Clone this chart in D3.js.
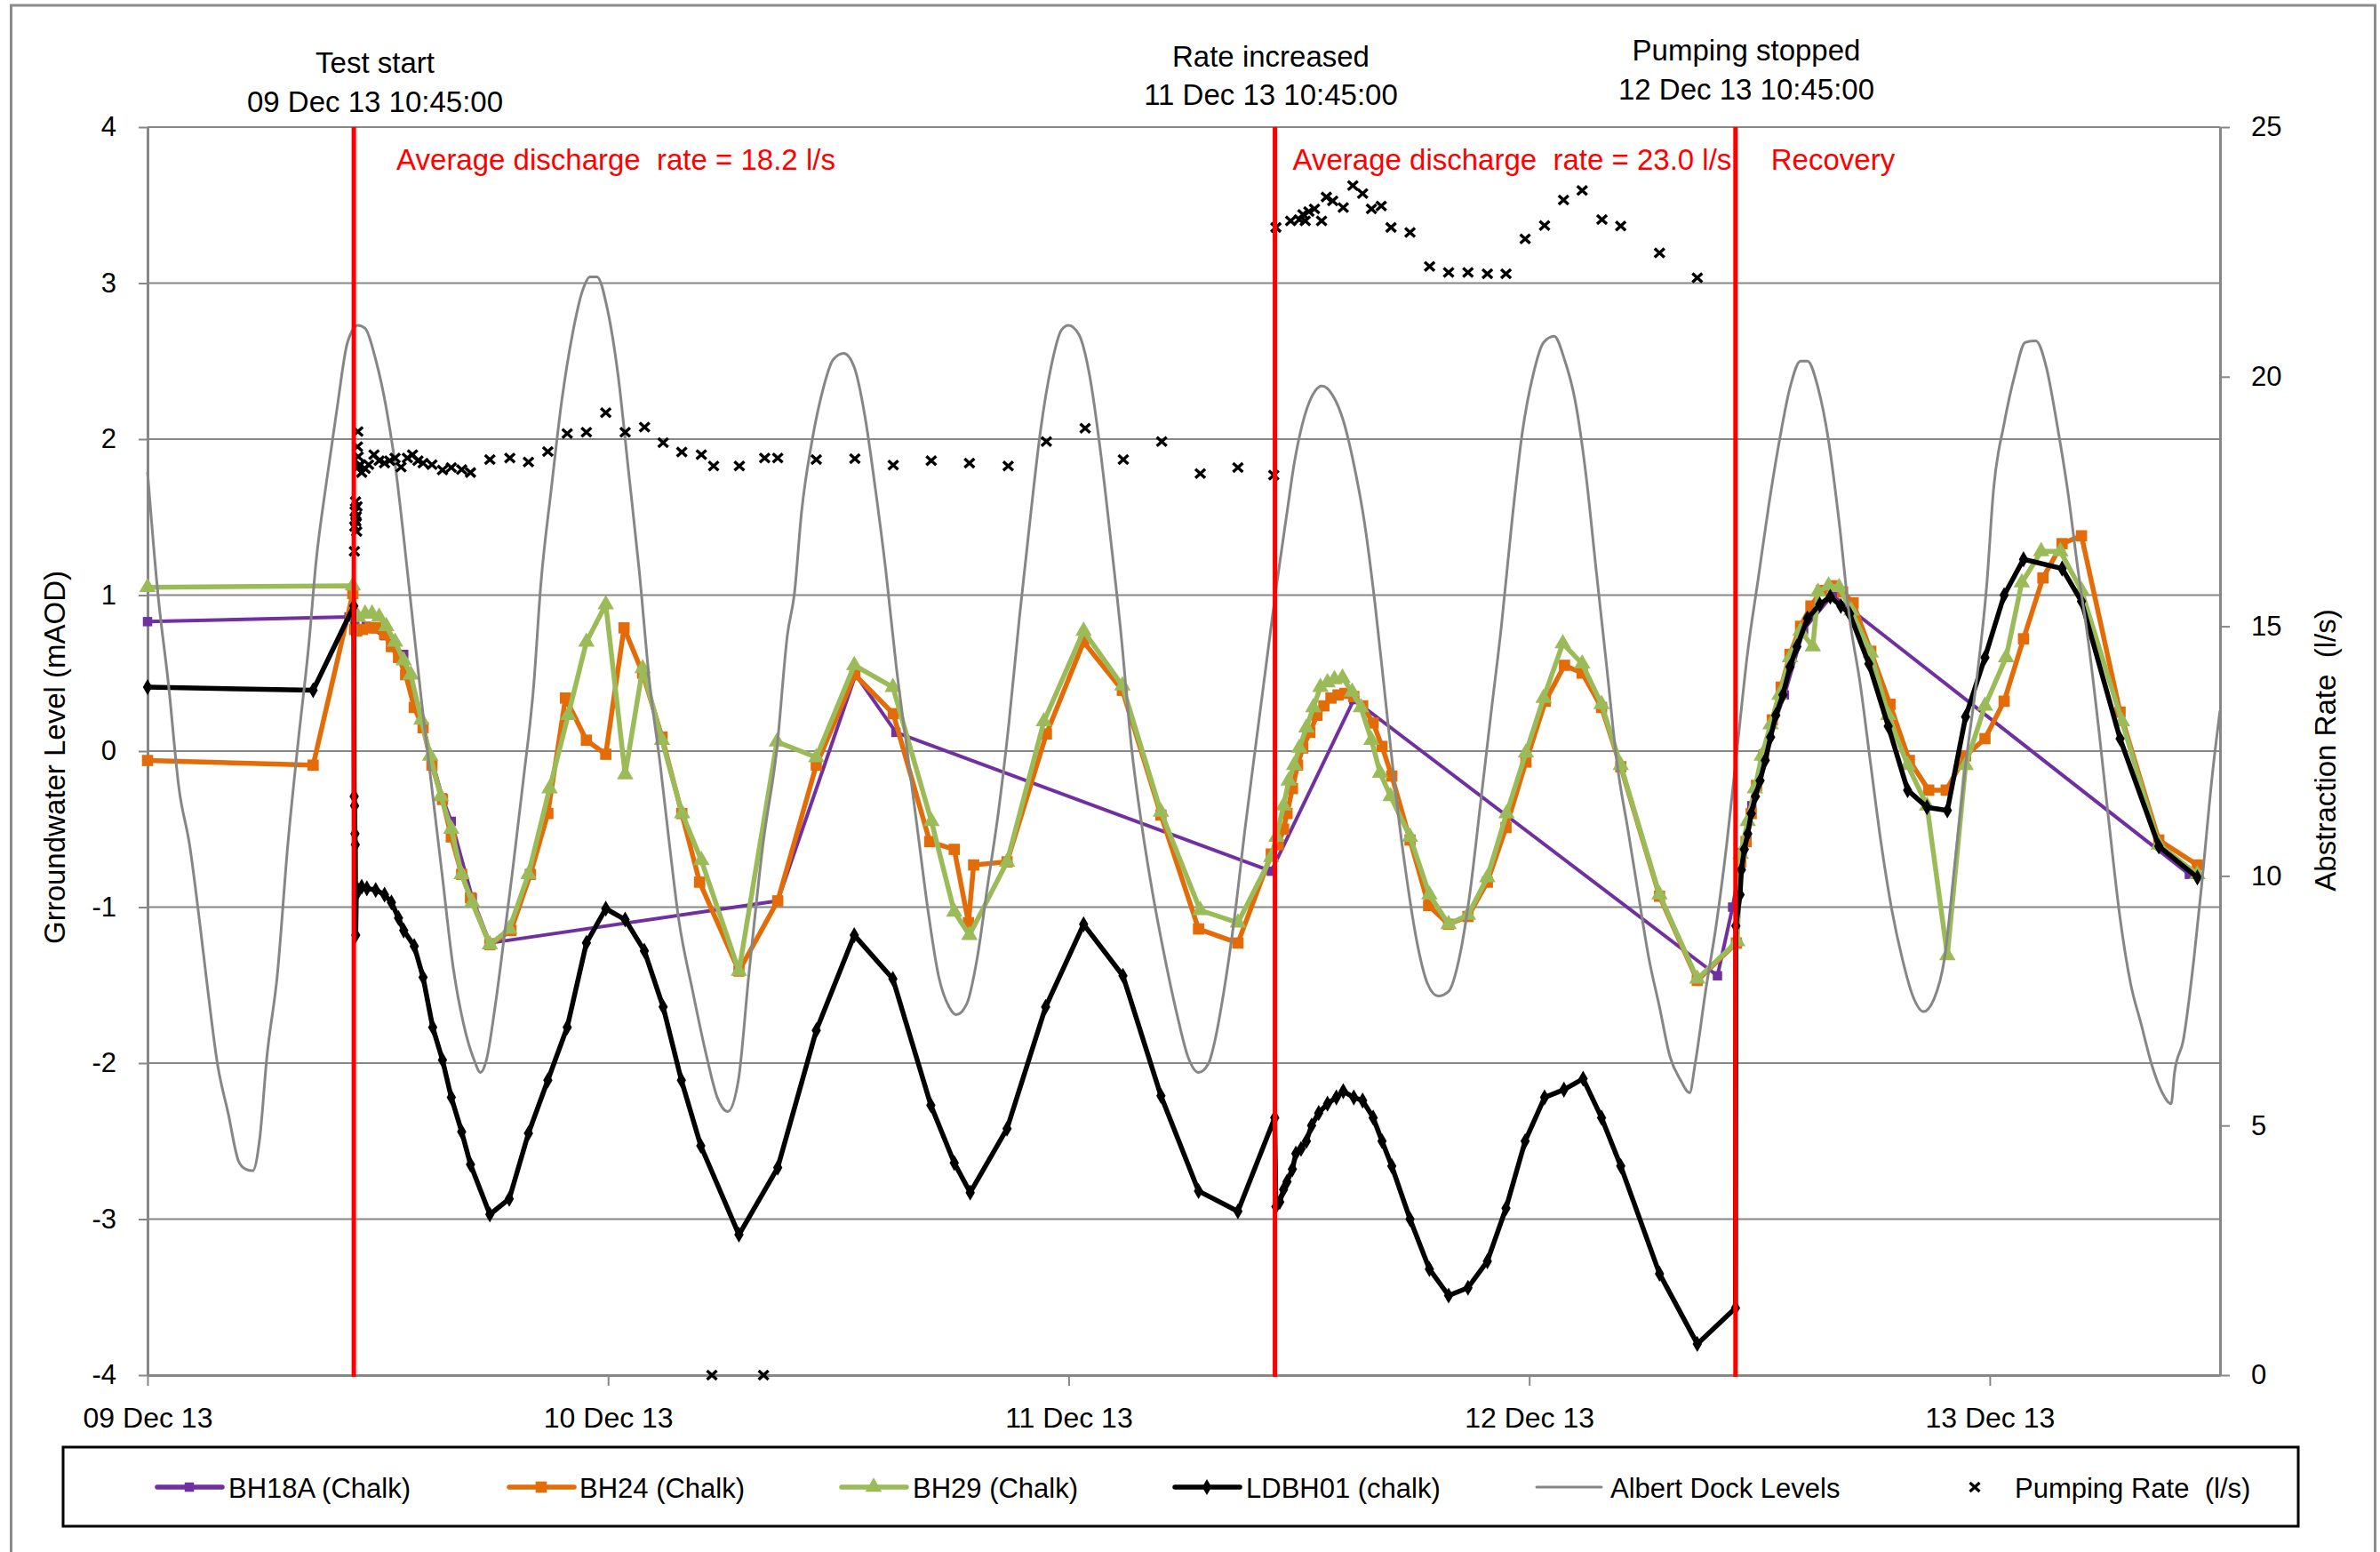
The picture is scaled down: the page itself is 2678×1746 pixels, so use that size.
<!DOCTYPE html>
<html><head><meta charset="utf-8">
<script src="https://cdn.jsdelivr.net/npm/d3@7"></script>
<style>
html,body{margin:0;padding:0;background:#fff;}
svg{display:block;font-family:"Liberation Sans",Arial,sans-serif;}
</style></head><body>
<svg id="chart" width="2678" height="1746"></svg>
<script>
// ---- tick labels / categories ----
const xTickHours = [0, 24, 48, 72, 96];          // hours after 09 Dec 13 00:00
const leftTicks = [-4, -3, -2, -1, 0, 1, 2, 3, 4];
const rightTicks = [0, 5, 10, 15, 20, 25];

// ---- events (hours after 09 Dec 13 00:00) ----
const eventHours = [10.75, 58.75, 82.75];
const eventTitles = ["Test start", "Rate increased", "Pumping stopped"];
const eventDates = ["09 Dec 13 10:45:00", "11 Dec 13 10:45:00", "12 Dec 13 10:45:00"];
const phaseLabels = ["Average discharge  rate = 18.2 l/s", "Average discharge  rate = 23.0 l/s", "Recovery"];

// ---- series: [hours after 09 Dec 13 00:00, value] ----
const bh18a = [[0,0.83],[10.5,0.86],[10.8,0.80],[11.4,0.80],[12.35,0.74],[13.35,0.62],[14.36,0.15],[15.37,-0.3],[15.83,-0.45],[16.92,-0.94],[17.84,-1.23],[32.84,-0.96],[36.9,0.49],[39.0,0.12],[58.56,-0.77],[62.86,0.33],[81.81,-1.44],[82.6,-1.0],[83.1,-0.65],[83.6,-0.35],[84.2,-0.02],[85.3,0.36],[86.3,0.78],[87.8,1.0],[106.4,-0.79]];

const bh24 = [[0,-0.06],[8.63,-0.09],[10.7,1.01],[10.79,0.78],[10.9,0.77],[11.2,0.78],[11.6,0.79],[11.89,0.79],[12.35,0.75],[12.71,0.67],[13.08,0.6],[13.45,0.49],[13.9,0.28],[14.36,0.15],[14.82,-0.09],[15.37,-0.31],[15.83,-0.55],[16.37,-0.79],[16.83,-0.94],[17.84,-1.24],[18.94,-1.15],[19.95,-0.79],[20.86,-0.4],[21.78,0.34],[22.87,0.07],[23.88,-0.02],[24.83,0.79],[25.8,0.5],[26.81,0.09],[27.84,-0.4],[28.77,-0.84],[30.82,-1.41],[32.84,-0.96],[34.85,-0.09],[36.86,0.49],[38.86,0.24],[40.76,-0.58],[42.04,-0.63],[42.78,-1.1],[43.05,-0.73],[44.79,-0.71],[46.84,0.11],[48.78,0.7],[50.8,0.39],[52.81,-0.41],[54.77,-1.14],[56.82,-1.23],[58.56,-0.66],[58.92,-0.6],[59.2,-0.5],[59.38,-0.4],[59.66,-0.24],[59.93,-0.09],[60.2,0.02],[60.57,0.12],[60.94,0.23],[61.3,0.29],[61.67,0.34],[62.04,0.36],[62.4,0.37],[62.86,0.35],[63.32,0.29],[63.87,0.18],[64.33,0.03],[64.84,-0.16],[65.79,-0.57],[66.76,-0.99],[67.8,-1.11],[68.81,-1.06],[69.82,-0.84],[70.79,-0.49],[71.83,-0.07],[72.84,0.32],[73.84,0.55],[74.76,0.5],[75.77,0.28],[76.77,-0.1],[78.79,-0.93],[80.76,-1.47],[82.8,-1.23],[83.02,-0.71],[83.3,-0.58],[83.57,-0.4],[83.85,-0.22],[84.21,-0.03],[84.67,0.2],[85.13,0.41],[85.59,0.62],[86.14,0.8],[86.68,0.93],[87.23,1.03],[87.78,1.06],[88.33,1.02],[88.88,0.95],[89.8,0.64],[90.8,0.3],[91.81,-0.06],[92.82,-0.25],[93.73,-0.25],[94.74,-0.03],[95.75,0.08],[96.75,0.32],[97.76,0.72],[98.77,1.11],[99.77,1.33],[100.78,1.38],[102.79,0.25],[104.81,-0.57],[106.82,-0.73]];

const bh29 = [[0,1.05],[10.7,1.06],[10.8,0.88],[10.97,0.86],[11.34,0.88],[11.7,0.88],[12.07,0.86],[12.44,0.8],[12.9,0.7],[13.35,0.58],[13.72,0.49],[14.27,0.2],[14.73,-0.03],[15.28,-0.29],[15.83,-0.5],[16.37,-0.79],[16.92,-0.97],[17.84,-1.24],[18.85,-1.14],[19.85,-0.79],[20.95,-0.24],[21.92,0.23],[22.87,0.7],[23.88,0.94],[24.89,-0.15],[25.8,0.53],[26.81,0.07],[27.86,-0.4],[28.86,-0.7],[30.82,-1.41],[32.8,0.06],[34.85,-0.04],[36.83,0.55],[38.84,0.41],[40.85,-0.45],[42.04,-1.03],[42.83,-1.18],[44.79,-0.71],[46.71,0.19],[48.78,0.77],[50.8,0.42],[52.81,-0.39],[54.86,-1.02],[56.82,-1.1],[58.56,-0.68],[58.83,-0.55],[59.2,-0.35],[59.47,-0.19],[59.75,-0.09],[60.02,0.02],[60.39,0.15],[60.75,0.28],[61.12,0.41],[61.49,0.44],[61.85,0.46],[62.27,0.47],[62.77,0.38],[63.23,0.28],[63.78,0.07],[64.23,-0.14],[64.78,-0.29],[65.79,-0.55],[66.8,-0.92],[67.8,-1.11],[68.81,-1.05],[69.82,-0.81],[70.82,-0.4],[71.83,-0.01],[72.75,0.34],[73.75,0.69],[74.76,0.56],[75.77,0.3],[76.77,-0.09],[78.79,-0.92],[80.76,-1.46],[82.84,-1.22],[83.02,-0.66],[83.39,-0.45],[83.76,-0.24],[84.12,-0.03],[84.58,0.17],[85.04,0.36],[85.59,0.6],[86.14,0.77],[86.78,0.67],[87.05,1.02],[87.6,1.06],[88.15,1.05],[88.79,0.9],[89.8,0.63],[90.71,0.23],[91.72,-0.09],[92.73,-0.35],[93.79,-1.31],[94.74,-0.09],[95.75,0.29],[96.85,0.6],[97.67,1.08],[98.68,1.28],[99.68,1.28],[100.78,1.03],[102.89,0.19],[104.81,-0.6],[106.82,-0.79]];

const ldbh01 = [[0,0.41],[8.63,0.39],[10.75,0.93],[10.77,-0.29],[10.79,-0.35],[10.81,-0.53],[10.83,-0.6],[10.85,-1.18],[10.88,-0.92],[10.97,-0.89],[11.16,-0.87],[11.43,-0.88],[11.89,-0.89],[12.35,-0.92],[12.71,-0.97],[13.08,-1.07],[13.35,-1.15],[13.9,-1.25],[14.36,-1.45],[14.86,-1.77],[15.37,-1.98],[15.83,-2.22],[16.37,-2.44],[16.83,-2.65],[17.84,-2.97],[18.85,-2.87],[19.85,-2.45],[20.86,-2.11],[21.87,-1.77],[22.87,-1.23],[23.88,-1.01],[24.89,-1.08],[25.89,-1.28],[26.87,-1.64],[27.82,-2.11],[28.83,-2.53],[30.82,-3.1],[32.84,-2.67],[34.85,-1.79],[36.83,-1.18],[38.84,-1.46],[40.82,-2.27],[42.04,-2.64],[42.87,-2.83],[44.79,-2.42],[46.8,-1.64],[48.78,-1.11],[50.83,-1.44],[52.81,-2.21],[54.77,-2.82],[56.82,-2.95],[58.74,-2.35],[58.8,-2.92],[59.0,-2.89],[59.2,-2.81],[59.38,-2.76],[59.66,-2.68],[59.84,-2.58],[60.11,-2.55],[60.39,-2.5],[60.66,-2.4],[61.03,-2.32],[61.49,-2.26],[61.95,-2.22],[62.31,-2.18],[62.86,-2.22],[63.32,-2.24],[63.87,-2.35],[64.33,-2.5],[64.84,-2.66],[65.79,-3.0],[66.8,-3.32],[67.8,-3.49],[68.81,-3.44],[69.82,-3.27],[70.79,-2.93],[71.79,-2.5],[72.8,-2.22],[73.81,-2.17],[74.81,-2.1],[75.77,-2.35],[76.77,-2.66],[78.79,-3.35],[80.76,-3.8],[82.75,-3.57],[82.77,-1.12],[82.99,-0.92],[83.06,-0.76],[83.21,-0.63],[83.39,-0.53],[83.57,-0.4],[83.79,-0.29],[84.03,-0.19],[84.3,-0.06],[84.58,0.09],[84.85,0.23],[85.22,0.36],[85.59,0.54],[85.95,0.67],[86.5,0.85],[87.14,0.94],[87.69,0.99],[88.24,0.93],[88.7,0.88],[89.7,0.56],[90.71,0.16],[91.72,-0.25],[92.73,-0.36],[93.79,-0.38],[94.74,0.22],[95.75,0.6],[96.75,1.0],[97.76,1.23],[99.77,1.17],[100.78,0.96],[102.79,0.08],[104.81,-0.61],[106.82,-0.81]];

const albertDock = [[0,1.79],[0.54,1.01],[1.09,0.43],[1.64,-0.24],[2.19,-0.6],[2.74,-1.12],[3.1,-1.49],[3.65,-2.01],[4.2,-2.32],[4.75,-2.63],[5.12,-2.68],[5.48,-2.69],[5.85,-2.48],[6.22,-1.96],[6.76,-1.44],[7.31,-0.6],[7.86,0.07],[8.41,0.69],[8.78,1.21],[9.33,1.73],[9.88,2.2],[10.42,2.62],[10.97,2.73],[11.34,2.71],[11.89,2.51],[12.44,2.2],[12.9,1.84],[13.35,1.37],[13.72,0.95],[14.27,0.33],[14.82,-0.24],[15.37,-0.81],[15.92,-1.38],[16.47,-1.75],[17.02,-1.98],[17.35,-2.06],[17.66,-1.98],[18.11,-1.64],[18.66,-1.12],[19.03,-0.76],[19.58,-0.19],[20.13,0.43],[20.49,1.06],[21.04,1.68],[21.59,2.25],[22.14,2.67],[22.69,2.96],[23.06,3.04],[23.42,3.04],[23.97,2.83],[24.52,2.41],[25.07,1.79],[25.62,1.16],[26.17,0.43],[26.72,-0.09],[27.2,-0.6],[27.67,-1.07],[28.41,-1.54],[29.14,-1.96],[29.69,-2.22],[30.24,-2.31],[30.79,-2.11],[31.33,-1.44],[32.07,-0.6],[32.8,0.02],[33.35,0.75],[33.71,1.01],[34.08,1.53],[34.63,1.99],[35.18,2.31],[35.73,2.51],[36.28,2.55],[36.83,2.46],[37.38,2.15],[37.93,1.68],[38.47,1.16],[39.02,0.54],[39.57,0.02],[40.12,-0.5],[40.67,-1.02],[41.22,-1.44],[41.77,-1.64],[42.14,-1.69],[42.69,-1.62],[43.23,-1.33],[43.78,-0.86],[44.33,-0.4],[44.88,0.17],[45.43,0.85],[45.98,1.47],[46.53,2.05],[47.08,2.46],[47.63,2.7],[47.99,2.73],[48.54,2.67],[49.09,2.41],[49.64,1.94],[50.18,1.37],[50.73,0.75],[51.28,0.02],[51.84,-0.5],[52.39,-0.92],[52.94,-1.28],[53.67,-1.7],[54.22,-1.96],[54.77,-2.06],[55.3,-2.0],[55.54,-1.9],[56.09,-1.54],[56.64,-1.07],[57.19,-0.5],[57.73,0.02],[58.28,0.54],[58.83,1.06],[59.38,1.53],[59.75,1.84],[60.3,2.15],[60.85,2.31],[61.21,2.34],[61.76,2.28],[62.31,2.12],[62.86,1.84],[63.41,1.47],[63.96,0.95],[64.51,0.33],[65.06,-0.29],[65.61,-0.81],[66.16,-1.23],[66.7,-1.49],[67.25,-1.57],[67.8,-1.54],[68.35,-1.33],[68.9,-0.92],[69.45,-0.35],[70.0,0.23],[70.55,0.8],[71.1,1.47],[71.65,2.05],[72.2,2.41],[72.75,2.62],[73.3,2.66],[73.84,2.51],[74.39,2.25],[74.94,1.79],[75.49,1.16],[76.04,0.54],[76.59,-0.09],[77.14,-0.5],[77.69,-0.92],[78.24,-1.33],[78.79,-1.64],[79.34,-1.96],[79.89,-2.11],[80.36,-2.19],[80.64,-2.01],[81.19,-1.54],[81.74,-1.12],[82.29,-0.6],[82.84,0.02],[83.39,0.64],[83.94,1.11],[84.49,1.58],[85.04,1.99],[85.59,2.33],[86.14,2.5],[86.5,2.5],[87.05,2.33],[87.6,1.99],[88.15,1.47],[88.7,0.85],[89.25,0.43],[89.8,-0.09],[90.35,-0.6],[90.9,-1.02],[91.44,-1.33],[91.99,-1.57],[92.54,-1.67],[93.09,-1.59],[93.64,-1.33],[94.19,-0.71],[94.74,-0.09],[95.29,0.43],[95.84,1.06],[96.2,1.68],[96.75,2.1],[97.3,2.41],[97.85,2.62],[98.4,2.63],[98.95,2.46],[99.5,2.1],[100.05,1.68],[100.6,1.16],[101.15,0.69],[101.7,0.12],[102.25,-0.5],[102.79,-1.07],[103.34,-1.49],[103.89,-1.75],[104.44,-2.01],[104.99,-2.19],[105.45,-2.26],[105.63,-2.06],[106.09,-1.85],[106.64,-1.33],[107.05,-0.85],[107.6,-0.15],[108,0.26]];

const pumpingRate = [[10.78,16.5],[10.8,17.0],[10.82,17.3],[10.84,17.5],[10.86,17.1],[10.88,17.2],[10.9,16.9],[10.92,17.4],[10.94,18.6],[10.96,18.9],[10.98,18.4],[11.0,18.2],[11.07,18.24],[11.16,18.08],[11.34,18.16],[11.52,18.24],[11.8,18.44],[12.07,18.32],[12.35,18.27],[12.62,18.32],[12.9,18.37],[13.21,18.19],[13.54,18.37],[13.81,18.44],[14.09,18.32],[14.36,18.27],[14.82,18.24],[15.37,18.13],[15.83,18.18],[16.37,18.14],[16.83,18.08],[17.84,18.34],[18.88,18.37],[19.85,18.29],[20.86,18.5],[21.87,18.86],[22.87,18.89],[23.88,19.28],[24.89,18.89],[25.9,18.99],[26.87,18.68],[27.84,18.49],[28.86,18.44],[29.41,0],[29.5,18.21],[30.84,18.21],[32.1,0],[32.16,18.37],[32.84,18.37],[34.85,18.34],[36.86,18.36],[38.86,18.23],[40.84,18.32],[42.83,18.27],[44.85,18.21],[46.84,18.7],[48.86,18.97],[50.85,18.34],[52.85,18.7],[54.86,18.06],[56.82,18.18],[58.69,18.03],[58.8,22.99],[59.57,23.12],[60.02,23.15],[60.21,23.25],[60.33,23.12],[60.52,23.31],[60.81,23.36],[61.18,23.12],[61.43,23.6],[61.76,23.52],[62.31,23.39],[62.81,23.83],[63.32,23.67],[63.78,23.36],[64.29,23.42],[64.8,22.99],[65.79,22.89],[66.81,22.21],[67.8,22.09],[68.81,22.09],[69.82,22.06],[70.79,22.06],[71.79,22.76],[72.8,23.03],[73.79,23.54],[74.76,23.73],[75.79,23.15],[76.77,23.02],[78.79,22.48],[80.76,21.98]];

// ---- drawing ----
const T0 = new Date(2013, 11, 9, 0, 0, 0).getTime();
const toDate = h => new Date(T0 + h * 3600000);

const svg = d3.select("#chart");
const P = {left: 166, right: 2498, top: 143, bottom: 1547};
const GRID = "#878787";
const FONT = '"Liberation Sans", Arial, sans-serif';

const x = d3.scaleTime().domain([toDate(0), toDate(108)]).range([P.left, P.right]);
const yL = d3.scaleLinear().domain([-4, 4]).range([P.bottom, P.top]);
const yR = d3.scaleLinear().domain([0, 25]).range([P.bottom, P.top]);

svg.append("rect").attr("width", 2678).attr("height", 1746).attr("fill", "#fff");
// outer chart frame (cut at the bottom like the reference)
svg.append("rect").attr("x", 12.5).attr("y", 6).attr("width", 2660).attr("height", 1800)
  .attr("fill", "none").attr("stroke", "#8c8c8c").attr("stroke-width", 3);

// gridlines
svg.append("g").selectAll("line").data(leftTicks).join("line")
  .attr("x1", P.left).attr("x2", P.right)
  .attr("y1", d => yL(d)).attr("y2", d => yL(d))
  .attr("stroke", GRID).attr("stroke-width", 2);

function styleAxis(g, size) {
  g.attr("font-family", FONT).attr("font-size", size).attr("color", GRID);
  g.select(".domain").attr("stroke-width", 3);
  g.selectAll(".tick line").attr("stroke-width", 2);
  g.selectAll(".tick text").attr("fill", "#000");
}

const gx = svg.append("g").attr("transform", `translate(0,${P.bottom})`)
  .call(d3.axisBottom(x).tickValues(xTickHours.map(toDate)).tickSize(12).tickSizeOuter(0)
    .tickPadding(24).tickFormat(d3.timeFormat("%d %b %y")));
styleAxis(gx, 32);

const gl = svg.append("g").attr("transform", `translate(${P.left},0)`)
  .call(d3.axisLeft(yL).tickValues(leftTicks).tickSize(10).tickSizeOuter(0)
    .tickPadding(25).tickFormat(d => String(d)));
styleAxis(gl, 31);

const gr = svg.append("g").attr("transform", `translate(${P.right},0)`)
  .call(d3.axisRight(yR).tickValues(rightTicks).tickSize(11).tickSizeOuter(0)
    .tickPadding(24).tickFormat(d => String(d)));
styleAxis(gr, 31);

// axis titles
svg.append("text").attr("transform", "translate(61,852) rotate(-90)")
  .attr("text-anchor", "middle").attr("dominant-baseline", "central")
  .attr("font-size", 33).attr("font-family", FONT).text("Grroundwater Level (mAOD)");
svg.append("text").attr("transform", "translate(2616,844) rotate(-90)")
  .attr("text-anchor", "middle").attr("dominant-baseline", "central")
  .attr("font-size", 33).attr("font-family", FONT).style("white-space", "pre").text("Abstraction Rate  (l/s)");

// series
const lineL = d3.line().x(d => x(toDate(d[0]))).y(d => yL(d[1]));
const seriesDefs = [
  {name: "BH18A (Chalk)", data: bh18a, color: "#7030A0", width: 4, sym: d3.symbolSquare, size: 110},
  {name: "BH24 (Chalk)", data: bh24, color: "#E36C09", width: 5.5, sym: d3.symbolSquare, size: 160},
  {name: "BH29 (Chalk)", data: bh29, color: "#9BBB59", width: 5.5, sym: d3.symbolTriangle, size: 150},
  {name: "LDBH01 (chalk)", data: ldbh01, color: "#000000", width: 5.5, sym: d3.symbolDiamond, size: 95}
];
seriesDefs.forEach(s => {
  const g = svg.append("g");
  g.append("path").datum(s.data).attr("d", lineL).attr("fill", "none")
    .attr("stroke", s.color).attr("stroke-width", s.width)
    .attr("stroke-linejoin", "round").attr("stroke-linecap", "round");
  g.selectAll("path.m").data(s.data).join("path").attr("class", "m")
    .attr("d", d3.symbol().type(s.sym).size(s.size))
    .attr("transform", d => `translate(${x(toDate(d[0]))},${yL(d[1])})`)
    .attr("fill", s.color);
});

// Albert Dock levels
svg.append("path").datum(albertDock)
  .attr("d", lineL.curve(d3.curveMonotoneX)).attr("fill", "none")
  .attr("stroke", "#868686").attr("stroke-width", 3).attr("stroke-linejoin", "round");

// pumping rate markers
const xMark = "M-5.5,-5L5.5,5M-5.5,5L5.5,-5";
svg.append("g").selectAll("path").data(pumpingRate).join("path")
  .attr("d", xMark)
  .attr("transform", d => `translate(${x(toDate(d[0]))},${yR(d[1])})`)
  .attr("stroke", "#000").attr("stroke-width", 3.4).attr("fill", "none");

// event lines and labels
eventHours.forEach((h, i) => {
  const ex = x(toDate(h));
  svg.append("line").attr("x1", ex).attr("x2", ex).attr("y1", P.top).attr("y2", P.bottom + 2)
    .attr("stroke", "#ff0000").attr("stroke-width", 5);
});
const titleCx = [422, 1430, 1965];
const titleY = [[82, 126], [75, 118], [68, 112]];
eventTitles.forEach((t, i) => {
  svg.append("text").attr("x", titleCx[i]).attr("y", titleY[i][0]).attr("text-anchor", "middle")
    .attr("font-size", 33).attr("font-family", FONT).text(t);
  svg.append("text").attr("x", titleCx[i]).attr("y", titleY[i][1]).attr("text-anchor", "middle")
    .attr("font-size", 33).attr("font-family", FONT).text(eventDates[i]);
});
const phaseX = [x(toDate(eventHours[0])) + 48, x(toDate(eventHours[1])) + 20, x(toDate(eventHours[2])) + 40];
phaseLabels.forEach((t, i) => {
  svg.append("text").attr("x", phaseX[i]).attr("y", 191)
    .attr("font-size", 33).attr("font-family", FONT).attr("fill", "#ff0000")
    .style("white-space", "pre").text(t);
});

// legend
const lg = svg.append("g");
lg.append("rect").attr("x", 71).attr("y", 1628).attr("width", 2515).attr("height", 89)
  .attr("fill", "#fff").attr("stroke", "#000").attr("stroke-width", 3);
const legY = 1673;
const legItems = [
  {s: seriesDefs[0], x0: 177, tx: 257},
  {s: seriesDefs[1], x0: 573, tx: 652},
  {s: seriesDefs[2], x0: 947, tx: 1027},
  {s: seriesDefs[3], x0: 1322, tx: 1402},
  {s: {name: "Albert Dock Levels", color: "#868686", width: 3}, x0: 1729, tx: 1812},
  {s: {name: "Pumping Rate  (l/s)", mark: true}, x0: 2222, tx: 2267}
];
legItems.forEach(it => {
  if (it.s.mark) {
    lg.append("path").attr("d", xMark).attr("transform", `translate(${it.x0},${legY})`)
      .attr("stroke", "#000").attr("stroke-width", 3.2);
  } else {
    lg.append("line").attr("x1", it.x0).attr("x2", it.x0 + 73).attr("y1", legY).attr("y2", legY)
      .attr("stroke", it.s.color).attr("stroke-width", it.s.sym ? 5.5 : 3).attr("stroke-linecap", "round");
    if (it.s.sym) {
      lg.append("path").attr("d", d3.symbol().type(it.s.sym).size(it.s.size))
        .attr("transform", `translate(${it.x0 + 36},${legY})`).attr("fill", it.s.color);
    }
  }
  lg.append("text").attr("x", it.tx).attr("y", legY + 12).attr("font-size", 31)
    .attr("font-family", FONT).style("white-space", "pre").text(it.s.name);
});
</script>
</body></html>
